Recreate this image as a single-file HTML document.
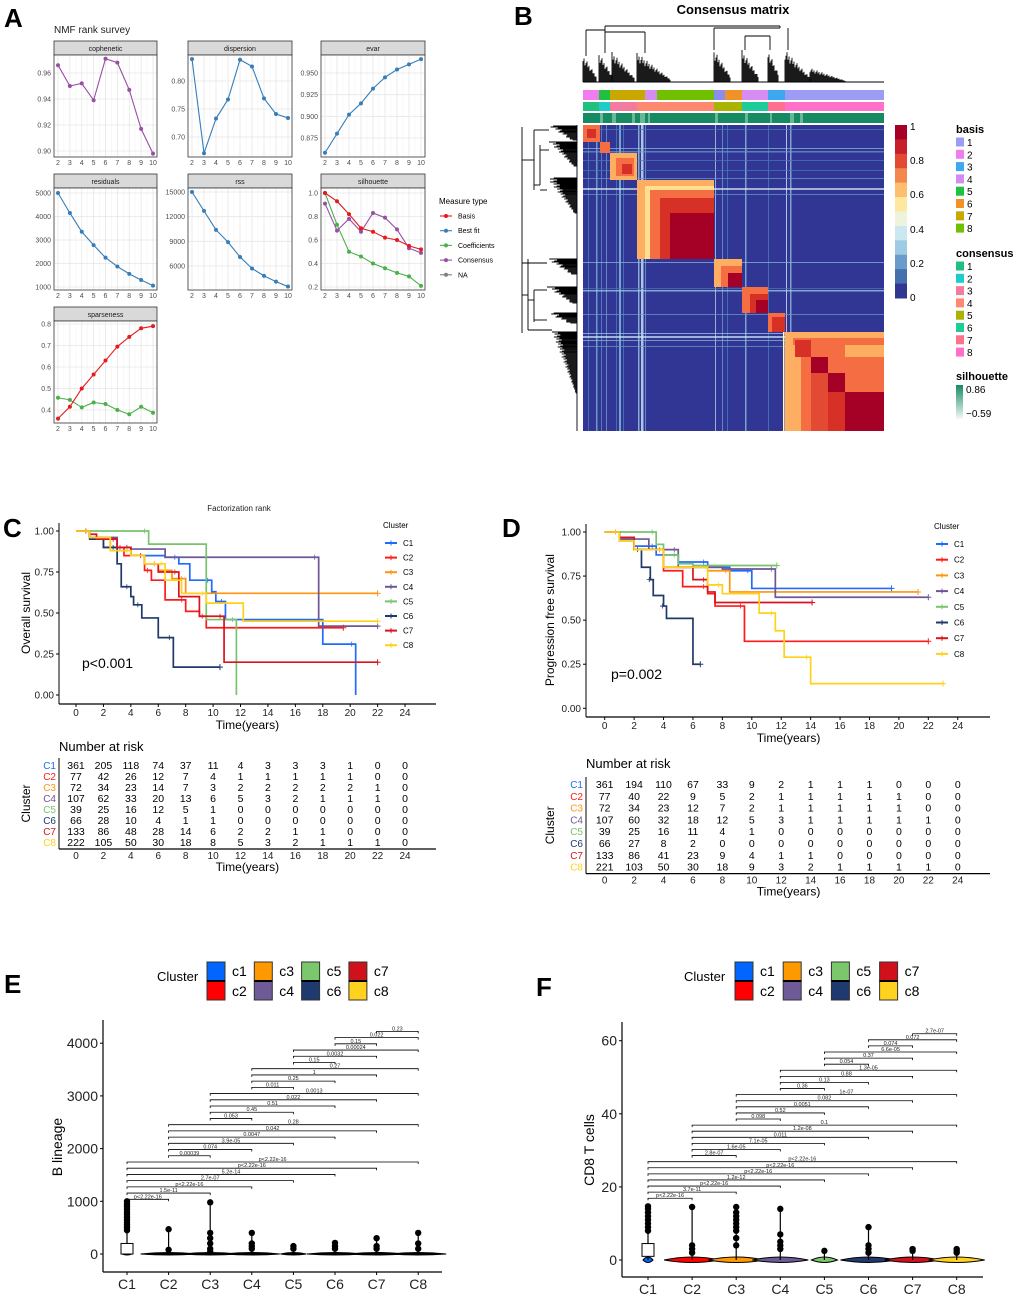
<!DOCTYPE html>
<html><head><meta charset="utf-8"><style>
html,body{margin:0;padding:0;background:#fff;}
svg{display:block;font-family:"Liberation Sans",sans-serif;}
</style></head><body>
<svg id="fig" width="1020" height="1298" viewBox="0 0 1020 1298" xmlns="http://www.w3.org/2000/svg"></svg>
<script>
// ---------- Panel A data ----------
const ranks=[2,3,4,5,6,7,8,9,10];
const copheneticVals=[0.966,0.950,0.952,0.939,0.971,0.968,0.947,0.917,0.898];
const dispersionVals=[0.839,0.671,0.733,0.767,0.838,0.826,0.769,0.741,0.734];
const evarVals=[0.858,0.880,0.902,0.915,0.932,0.945,0.954,0.960,0.966];
const residualsVals=[5000,4150,3350,2780,2250,1870,1560,1300,1060];
const rssVals=[15000,12700,10400,8900,7100,5700,4800,4100,3500];
const silBasis=[1.0,0.93,0.82,0.70,0.67,0.62,0.60,0.55,0.52];
const silCoef=[1.0,0.73,0.50,0.46,0.40,0.36,0.32,0.29,0.21];
const silConsensus=[0.91,0.68,0.78,0.67,0.83,0.79,0.69,0.53,0.49];
const sparseBasis=[0.36,0.415,0.50,0.565,0.63,0.695,0.74,0.78,0.79];
const sparseCoef=[0.457,0.447,0.412,0.435,0.428,0.40,0.38,0.415,0.387];
const measureTypes=['Basis','Best fit','Coefficients','Consensus','NA'];
// ---------- KM data ----------
const clusters=['C1','C2','C3','C4','C5','C6','C7','C8'];
const osTimes={C1:[1,3,4,6.5,7.5,8.3,9.9,10.2,10.9,18,20.4],C2:[1,2,3.5,5,5.5,6.5,8,9,9.5],C3:[1,2.5,4,5,6,7,8],C4:[1,3,4,6.5,17.7],C5:[5.3,9.5,11.7],C6:[1,2,3,3.3,4,4.2,4.8,6,7.1],C7:[1,1.5,3,4,5,6,7.5,9,10.8],C8:[1,2.5,4,5,6.5,7.7,9.5,12.2]};
const osSurv={C1:[0.96,0.9,0.85,0.84,0.8,0.7,0.63,0.57,0.46,0.31,0],C2:[0.96,0.9,0.85,0.76,0.7,0.58,0.51,0.48,0.41],C3:[0.96,0.9,0.85,0.8,0.76,0.71,0.62],C4:[0.96,0.9,0.89,0.84,0.42],C5:[0.92,0.46,0],C6:[0.95,0.9,0.8,0.66,0.6,0.55,0.47,0.35,0.17],C7:[0.98,0.95,0.9,0.85,0.8,0.75,0.6,0.48,0.2],C8:[0.96,0.88,0.85,0.8,0.7,0.62,0.56,0.45]};
const osEnd={C1:20.4,C2:19.5,C3:22,C4:22,C5:11.7,C6:10.5,C7:22,C8:22};
const pfsTimes={C1:[1,2,3.5,5,7,8.5,10],C2:[1,2,4,5.3,7,7.5,9.5],C3:[1,2,4,7,8.5],C4:[1,3,5,8,11.6],C5:[3.5,4,5,6],C6:[1,2,2.5,3.1,3.3,4,4.2,6],C7:[1,2,4,6,7,7.5],C8:[1,2,4,7,8,10.5,11.6,12.2,14]};
const pfsSurv={C1:[0.96,0.92,0.87,0.83,0.8,0.78,0.68],C2:[0.96,0.9,0.78,0.69,0.65,0.58,0.38],C3:[0.96,0.9,0.8,0.78,0.66],C4:[0.96,0.9,0.8,0.79,0.63],C5:[0.93,0.87,0.82,0.81],C6:[0.95,0.9,0.8,0.73,0.64,0.58,0.51,0.25],C7:[0.97,0.9,0.8,0.73,0.66,0.6],C8:[0.95,0.9,0.8,0.7,0.65,0.54,0.44,0.29,0.14]};
const pfsEnd={C1:19.5,C2:22,C3:21.3,C4:22,C5:11.7,C6:6.5,C7:14.1,C8:23};
const riskTimes=[0,2,4,6,8,10,12,14,16,18,20,22,24];
const osRisk=[[361,205,118,74,37,11,4,3,3,3,1,0,0],[77,42,26,12,7,4,1,1,1,1,1,0,0],[72,34,23,14,7,3,2,2,2,2,2,1,0],[107,62,33,20,13,6,5,3,2,1,1,1,0],[39,25,16,12,5,1,0,0,0,0,0,0,0],[66,28,10,4,1,1,0,0,0,0,0,0,0],[133,86,48,28,14,6,2,2,1,1,0,0,0],[222,105,50,30,18,8,5,3,2,1,1,1,0]];
const pfsRisk=[[361,194,110,67,33,9,2,1,1,1,0,0,0],[77,40,22,9,5,2,1,1,1,1,1,0,0],[72,34,23,12,7,2,1,1,1,1,1,0,0],[107,60,32,18,12,5,3,1,1,1,1,1,0],[39,25,16,11,4,1,0,0,0,0,0,0,0],[66,27,8,2,0,0,0,0,0,0,0,0,0],[133,86,41,23,9,4,1,1,0,0,0,0,0],[221,103,50,30,18,9,3,2,1,1,1,1,0]];
// ---------- Violin data ----------
const pairsI=[1,1,1,1,1,1,1,2,2,2,2,2,2,3,3,3,3,3,4,4,4,4,5,5,5,6,6,7];
const pairsJ=[2,3,4,5,6,7,8,3,4,5,6,7,8,4,5,6,7,8,5,6,7,8,6,7,8,7,8,8];
const pLabelsE=['p<2.22e-16','1.5e-11','p<2.22e-16','2.7e-07','5.2e-14','p<2.22e-16','p<2.22e-16','0.00039','0.074','3.9e-05','0.0047','0.042','0.28','0.053','0.45','0.51','0.022','0.0013','0.011','0.25','1','0.27','0.15','0.0032','0.00024','0.15','0.022','0.23'];
const pLabelsF=['p<2.22e-16','3.7e-11','p<2.22e-16','1.2e-12','p<2.22e-16','p<2.22e-16','p<2.22e-16','2.8e-07','1.6e-05','7.1e-05','0.011','1.2e-08','0.1','0.098','0.52','0.0051','0.082','1e-07','0.36','0.13','0.88','1.3e-05','0.054','0.37','6.6e-05','0.074','0.072','2.7e-07'];
const outliersE=[[450,500,550,600,650,700,750,800,850,900,950,1000],[80,470],[50,100,200,300,400,980],[100,150,200,400],[100,150],[100,150,210],[100,150,300],[100,200,400]];
const outliersF=[[8,9,10,11,12,13,14,14.7],[2,3,4,14.5],[4,6,8,9,10,11,12,13,14.5],[3,4,5,7,14],[2.5],[2,3,4,9],[2.5,3],[2,2.5,3]];
const yTicksE=[0,1000,2000,3000,4000];
const yTicksF=[0,20,40,60];

const NS='http://www.w3.org/2000/svg';
const svg=document.getElementById('fig');
const kmCol={C1:'#1F6BFF',C2:'#FF1A1A',C3:'#FF9410',C4:'#6C5794',C5:'#78C46C',C6:'#1F3A6A',C7:'#D9141E',C8:'#FFD21A'};
function mk(tag,attrs,parent,name){
  const e=document.createElementNS(NS,tag);
  for(const k in attrs) e.setAttribute(k,attrs[k]);
  
  
  (parent||svg).appendChild(e);return e;}
function tx(s,x,y,size,parent,name,extra){
  const a=Object.assign({x:x,y:y,'font-size':size,fill:'#000'},extra||{});
  const e=mk('text',a,parent,name);e.textContent=s;return e;}
function grp(name){return mk('g',{},svg,name);}

[['A',4,27],['B',514,25],['C',3,537],['D',502,537],['E',4,993],['F',536,996]].forEach(function(l){
  tx(l[0],l[1],l[2],26,svg,'panel-label-'+l[0].toLowerCase(),{'font-weight':'bold'});});

// ---------- Panel A ----------
(function(){
  const g=grp('nmf-rank-survey');
  tx('NMF rank survey',54,33,10,g,'panel-a-title',{fill:'#222'});
  const cols=[[54,157],[188,292],[321,425]];
  const rows=[[55,157],[188,290],[321,423]];
  const facets=[
    {n:'cophenetic',c:0,r:0,ref:[0.96,73,0.90,151],ticks:[0.90,0.92,0.94,0.96],lab:['0.90','0.92','0.94','0.96'],series:[[copheneticVals,'#984EA3']]},
    {n:'dispersion',c:1,r:0,ref:[0.80,81,0.70,137],ticks:[0.70,0.75,0.80],lab:['0.70','0.75','0.80'],series:[[dispersionVals,'#377EB8']]},
    {n:'evar',c:2,r:0,ref:[0.950,73,0.875,138],ticks:[0.875,0.900,0.925,0.950],lab:['0.875','0.900','0.925','0.950'],series:[[evarVals,'#377EB8']]},
    {n:'residuals',c:0,r:1,ref:[5000,193,1000,287],ticks:[1000,2000,3000,4000,5000],lab:['1000','2000','3000','4000','5000'],series:[[residualsVals,'#377EB8']]},
    {n:'rss',c:1,r:1,ref:[15000,192,6000,266],ticks:[6000,9000,12000,15000],lab:['6000','9000','12000','15000'],series:[[rssVals,'#377EB8']]},
    {n:'silhouette',c:2,r:1,ref:[1.0,193,0.2,287],ticks:[0.2,0.4,0.6,0.8,1.0],lab:['0.2','0.4','0.6','0.8','1.0'],series:[[silCoef,'#4DAF4A'],[silConsensus,'#984EA3'],[silBasis,'#E41A1C']]},
    {n:'sparseness',c:0,r:2,ref:[0.8,324,0.4,410],ticks:[0.4,0.5,0.6,0.7,0.8],lab:['0.4','0.5','0.6','0.7','0.8'],series:[[sparseCoef,'#4DAF4A'],[sparseBasis,'#E41A1C']]}
  ];
  facets.forEach(function(f){
    const x0=cols[f.c][0],x1=cols[f.c][1],y0=rows[f.r][0],y1=rows[f.r][1];
    const fg=mk('g',{},g,'facet-'+f.n);
    const xs=function(r){return x0+4+(r-2)*(x1-x0-8)/8;};
    const ys=function(v){return f.ref[1]+(v-f.ref[0])*(f.ref[3]-f.ref[1])/(f.ref[2]-f.ref[0]);};
    mk('rect',{x:x0,y:y0-14,width:x1-x0,height:14,fill:'#D9D9D9',stroke:'#333','stroke-width':0.8},fg,'facet-strip');
    tx(f.n,(x0+x1)/2,y0-4,7,fg,'facet-strip-label',{'text-anchor':'middle',fill:'#1A1A1A'});
    mk('rect',{x:x0,y:y0,width:x1-x0,height:y1-y0,fill:'#fff'},fg,'facet-panel');
    for(let r=2.5;r<10;r+=1) mk('line',{x1:xs(r),x2:xs(r),y1:y0,y2:y1,stroke:'#F4F4F4','stroke-width':0.6},fg,'minor-grid');
    ranks.forEach(function(r){mk('line',{x1:xs(r),x2:xs(r),y1:y0,y2:y1,stroke:'#E6E6E6','stroke-width':0.8},fg,'grid-x');
      tx(String(r),xs(r),y1+8,7,fg,'x-tick-label',{'text-anchor':'middle',fill:'#4D4D4D'});});
    f.ticks.forEach(function(t,i){const y=ys(t);
      mk('line',{x1:x0,x2:x1,y1:y,y2:y,stroke:'#E6E6E6','stroke-width':0.8},fg,'grid-y');
      tx(f.lab[i],x0-3,y+2.5,7,fg,'y-tick-label',{'text-anchor':'end',fill:'#4D4D4D'});});
    mk('rect',{x:x0,y:y0,width:x1-x0,height:y1-y0,fill:'none',stroke:'#333','stroke-width':0.8},fg,'facet-border');
    f.series.forEach(function(s){
      const pts=s[0].map(function(v,i){return xs(ranks[i])+','+ys(v);}).join(' ');
      mk('polyline',{points:pts,fill:'none',stroke:s[1],'stroke-width':1.1},fg,'measure-line');
      s[0].forEach(function(v,i){mk('circle',{cx:xs(ranks[i]),cy:ys(v),r:2,fill:s[1]},fg,'measure-point');});
    });
  });
  const lg=mk('g',{},g,'measure-type-legend');
  tx('Measure type',439,204,8,lg,'legend-title');
  const lc=['#E41A1C','#377EB8','#4DAF4A','#984EA3','#7F7F7F'];
  measureTypes.forEach(function(m,i){const y=216+i*14.7;
    mk('line',{x1:440,x2:452,y1:y,y2:y,stroke:lc[i],'stroke-width':1.1},lg,'legend-line');
    mk('circle',{cx:446,cy:y,r:2,fill:lc[i]},lg,'legend-dot');
    tx(m,458,y+2.5,7,lg,'legend-entry');});
})();

// ---------- Panel B ----------
(function(){
  const g=grp('consensus-matrix');
  tx('Consensus matrix',733,14,13,g,'heatmap-title',{'text-anchor':'middle','font-weight':'bold'});
  const hx0=583,hy0=125,W=301,H=306;
  mk('rect',{x:hx0,y:hy0,width:W,height:H,fill:'#313695'},g,'heatmap-background');
  const vst=[[588,1,'#4A7BB7'],[596,1.5,'#7FB0D4'],[601,1,'#5A8CC2'],[606,1,'#6C9CCB'],[616,1,'#4A7BB7'],[619,2,'#8FBEDC'],[623,1,'#4A7BB7'],[638,1.5,'#9FCBE2'],[641,2.5,'#CFE8F2'],[645,1,'#6C9CCB'],[715,1,'#A9D4E6'],[722,1,'#6C9CCB'],[727,1,'#4A7BB7'],[745,1.5,'#8FBEDC'],[768,1,'#4A7BB7'],[786,1,'#CFE8F2'],[790,1.5,'#8FBEDC']];
  vst.forEach(function(s){mk('rect',{x:s[0],y:hy0,width:s[1],height:H,fill:s[2],opacity:0.8},g,'heatmap-stripe');});
  const hst=[[129,1,'#4A7BB7'],[148,1,'#8FBEDC'],[151,1.5,'#6C9CCB'],[160,1,'#4A7BB7'],[170,1,'#4A7BB7'],[178,1,'#6C9CCB'],[188,2,'#CFE8F2'],[194,1,'#6C9CCB'],[262,1,'#8FBEDC'],[288,1,'#4A7BB7'],[290,1.5,'#A9D4E6'],[314,1,'#6C9CCB'],[333,1,'#A9D4E6'],[336,2,'#CFE8F2'],[340,1,'#8FBEDC'],[346,1,'#6C9CCB']];
  hst.forEach(function(s){mk('rect',{x:hx0,y:s[0],width:W,height:s[1],fill:s[2],opacity:0.7},g,'heatmap-stripe');});
  const blocks=[[583,125,17,17,'#F46D43'],[587,129,9,9,'#D73027'],[600,142,10,11,'#F46D43'],[610,153,27,27,'#FDAE61'],[616,158,18,18,'#F46D43'],[622,164,10,10,'#D73027'],
    [637,180,77,79,'#FDAE61'],[645,186,69,73,'#FEE090'],[650,190,64,69,'#F46D43'],[660,198,54,61,'#D73027'],[670,213,44,46,'#A50026'],
    [714,259,28,28,'#FDAE61'],[721,266,21,21,'#F46D43'],[728,273,14,14,'#A50026'],
    [742,287,26,26,'#F46D43'],[750,294,18,19,'#D73027'],[756,300,12,13,'#A50026'],
    [768,313,17,19,'#F46D43'],[772,317,13,15,'#D73027'],
    [785,332,99,99,'#F46D43'],[785,332,8,99,'#FDAE61'],[785,332,99,6,'#FDAE61'],[793,345,8,86,'#FDAE61'],[811,357,17,16,'#A50026'],[828,373,17,19,'#A50026'],[811,373,17,58,'#E34A33'],[828,392,17,39,'#D73027'],[845,392,39,39,'#A50026'],[845,357,39,35,'#F46D43'],[845,345,39,12,'#FDAE61'],[795,340,16,17,'#D73027']];
  blocks.forEach(function(b){mk('rect',{x:b[0],y:b[1],width:b[2],height:b[3],fill:b[4]},g,'heatmap-block');});
  mk('rect',{x:783,y:332,width:1.5,height:99,fill:'#FFFFBF'},g,'heatmap-stripe');
  const basisSeg=[[583,599,'#F07CF0'],[599,610,'#20C040'],[610,645,'#C8A800'],[645,657,'#D38CF0'],[657,714,'#70C000'],[714,725,'#8C8CF0'],[725,742,'#F0922A'],[742,768,'#D68CF0'],[768,785,'#3DA8F0'],[785,884,'#9C9CF5']];
  basisSeg.forEach(function(s){mk('rect',{x:s[0],y:90,width:s[1]-s[0],height:10,fill:s[2]},g,'basis-annotation');});
  const consSeg=[[583,599,'#22C080'],[599,610,'#1ECCC8'],[610,637,'#F27CA0'],[637,714,'#FF8870'],[714,742,'#A8B400'],[742,768,'#1ECC99'],[768,785,'#FF7090'],[785,884,'#FF70C8']];
  consSeg.forEach(function(s){mk('rect',{x:s[0],y:102,width:s[1]-s[0],height:9,fill:s[2]},g,'consensus-annotation');});
  mk('rect',{x:583,y:113,width:301,height:10,fill:'#168A62'},g,'silhouette-annotation');
  [[600,3],[612,4],[632,3],[640,5],[648,2],[715,3],[745,3],[770,2],[790,4],[800,3]].forEach(function(s){
    mk('rect',{x:s[0],y:113,width:s[1],height:10,fill:'#7CC3A5',opacity:0.8},g,'silhouette-streak');});
  const dg=mk('g',{stroke:'#000','stroke-width':0.9,fill:'none'},g,'column-dendrogram');
  mk('line',{x1:583,x2:884,y1:82,y2:82},dg,'dendro-base');
  const tg=[[583,596,55],[599,612,53],[612,634,52],[637,670,53],[714,730,50],[742,758,50],[768,778,50],[785,810,50],[810,845,68]];
  tg.forEach(function(d){for(let x=d[0];x<=d[1];x+=1){const h=(82-d[2])*(1-(x-d[0])/(d[1]-d[0]+4))*(0.7+0.3*((x*7)%5)/4);
    mk('line',{x1:x,x2:x,y1:82,y2:82-h},dg,'dendro-leaf');}});
  [[586,605,30],[605,645,32],[605,780,26],[714,780,28],[745,770,36]].forEach(function(h){mk('line',{x1:h[0],x2:h[1],y1:h[2],y2:h[2]},dg,'dendro-join');});
  [[586,30,56],[605,26,53],[645,32,53],[714,28,50],[745,36,50],[770,36,50],[780,26,28],[788,28,50]].forEach(function(v){mk('line',{x1:v[0],x2:v[0],y1:v[1],y2:v[2]},dg,'dendro-join');});
  const lg=mk('g',{stroke:'#000','stroke-width':0.9,fill:'none'},g,'row-dendrogram');
  mk('line',{x1:577,x2:577,y1:125,y2:431},lg,'dendro-base');
  const lgroups=[[126,140,549],[142,166,549],[178,213,547],[259,274,547],[287,303,547],[313,323,547],[332,393,552]];
  lgroups.forEach(function(d){for(let y=d[0];y<=d[1];y+=1){const w=(577-d[2])*(1-(y-d[0])/(d[1]-d[0]+4))*(0.7+0.3*((y*7)%5)/4);
    mk('line',{y1:y,y2:y,x1:577,x2:577-w},lg,'dendro-leaf');}});
  [[522,127,333],[528,259,330],[534,130,190],[534,290,322],[540,145,185]].forEach(function(v){mk('line',{x1:v[0],x2:v[0],y1:v[1],y2:v[2]},lg,'dendro-join');});
  [[522,534,160],[522,528,295],[534,549,130],[534,540,185],[540,549,150],[540,547,190],[522,547,263],[528,534,300],[534,547,290],[534,547,320],[528,552,330]].forEach(function(h){mk('line',{x1:h[0],x2:h[1],y1:h[2],y2:h[2]},lg,'dendro-join');});
  const cb=['#A50026','#C8202A','#E34A33','#F4874C','#FDBF6F','#FEE8A0','#EEF3DC','#CBE7F0','#9DCBE3','#6A9CCB','#4570B0','#2F3792'];
  cb.forEach(function(c,i){mk('rect',{x:895,y:125+i*173/12,width:12,height:173/12+0.5,fill:c},g,'colorbar-band');});
  [['1',130],['0.8',164],['0.6',198],['0.4',233],['0.2',267],['0',301]].forEach(function(t){tx(t[0],910,t[1],10,g,'colorbar-label');});
  const basisCols=['#9C9CF5','#F07CF0','#3DA8F0','#D38CF0','#20C040','#F0922A','#C8A800','#70C000'];
  const consCols=['#22C080','#1ECCC8','#F27CA0','#FF8870','#A8B400','#1ECC99','#FF7090','#FF70C8'];
  tx('basis',956,133,11,g,'basis-legend-title',{'font-weight':'bold'});
  basisCols.forEach(function(c,i){const y=142+i*12.3;mk('rect',{x:956,y:y-4.5,width:8,height:9,fill:c},g,'basis-legend-swatch');tx(String(i+1),967,y+4,10,g,'basis-legend-label');});
  tx('consensus',956,257,11,g,'consensus-legend-title',{'font-weight':'bold'});
  consCols.forEach(function(c,i){const y=266+i*12.3;mk('rect',{x:956,y:y-4.5,width:8,height:9,fill:c},g,'consensus-legend-swatch');tx(String(i+1),967,y+4,10,g,'consensus-legend-label');});
  tx('silhouette',956,380,11,g,'silhouette-legend-title',{'font-weight':'bold'});
  const gr=mk('linearGradient',{id:'silg',x1:0,y1:0,x2:0,y2:1},g,'silhouette-gradient');
  mk('stop',{offset:0,'stop-color':'#168A62'},gr,'gradient-stop');mk('stop',{offset:1,'stop-color':'#F4FAF7'},gr,'gradient-stop');
  mk('rect',{x:956,y:385,width:7,height:34,fill:'url(#silg)'},g,'silhouette-legend-bar');
  tx('0.86',966,393,10,g,'silhouette-max-label');tx('\u22120.59',966,417,10,g,'silhouette-min-label');
})();

// ---------- KM panels ----------
function drawKM(cfg,times,surv,ends,risk){
  const g=grp(cfg.name);
  const xs=function(t){return cfg.x0+t*cfg.ppy;};
  const ys=function(s){return cfg.y0-s*(cfg.y0-cfg.y1);};
  if(cfg.title) tx(cfg.title,239,511,8,g,'plot-title',{'text-anchor':'middle',fill:'#222'});
  mk('line',{x1:cfg.ax,x2:cfg.ax,y1:cfg.y1-8,y2:cfg.axB,stroke:'#000'},g,'y-axis-line');
  mk('line',{x1:cfg.ax,x2:cfg.axR,y1:cfg.axB,y2:cfg.axB,stroke:'#000','stroke-width':1.2},g,'x-axis-line');
  [0,0.25,0.5,0.75,1].forEach(function(s){const y=ys(s);mk('line',{x1:cfg.ax-3,x2:cfg.ax,y1:y,y2:y,stroke:'#000'},g,'y-tick');
    tx(s.toFixed(2),cfg.ax-5,y+3.5,10,g,'y-tick-label',{'text-anchor':'end',fill:'#222'});});
  riskTimes.forEach(function(t){const x=xs(t);mk('line',{x1:x,x2:x,y1:cfg.axB,y2:cfg.axB+3,stroke:'#000'},g,'x-tick');
    tx(String(t),x,cfg.axB+12,10,g,'x-tick-label',{'text-anchor':'middle',fill:'#222'});});
  tx('Time(years)',xs(12.5),cfg.axB+25,12,g,'x-axis-title',{'text-anchor':'middle'});
  tx(cfg.ylab,0,0,12,g,'y-axis-title',{'text-anchor':'middle',transform:'translate('+cfg.ylx+','+((cfg.y0+cfg.y1)/2)+') rotate(-90)'});
  tx(cfg.p,cfg.px,cfg.py,14,g,'p-value');
  clusters.forEach(function(c){
    let d='M'+xs(0)+','+ys(1);
    times[c].forEach(function(t,i){d+=' H'+xs(t)+' V'+ys(surv[c][i]);});
    d+=' H'+xs(ends[c]);
    mk('path',{d:d,fill:'none',stroke:kmCol[c],'stroke-width':1.7},g,'km-curve-'+c.toLowerCase());
    const last=surv[c][surv[c].length-1];
    if(last>0){const ex=xs(ends[c]),ey=ys(last);
      mk('path',{d:'M'+(ex-3)+','+ey+' H'+(ex+3)+' M'+ex+','+(ey-3)+' V'+(ey+3),stroke:kmCol[c],'stroke-width':1},g,'censor-mark');}
    times[c].forEach(function(t,i){if(i%2===0){const cx=xs(t)-4,cy=ys(i?surv[c][i-1]:1);
      mk('path',{d:'M'+(cx-2.5)+','+cy+' H'+(cx+2.5)+' M'+cx+','+(cy-2.5)+' V'+(cy+2.5),stroke:kmCol[c],'stroke-width':0.8},g,'censor-mark');}});
  });
  const lg=mk('g',{},g,'cluster-legend');
  tx('Cluster',cfg.lx,cfg.ly,8,lg,'legend-title');
  clusters.forEach(function(c,i){const y=cfg.ly+15+i*cfg.lstep;
    mk('line',{x1:cfg.lx+2,x2:cfg.lx+14,y1:y,y2:y,stroke:kmCol[c],'stroke-width':2},lg,'legend-line');
    mk('line',{x1:cfg.lx+8,x2:cfg.lx+8,y1:y-2.5,y2:y+2.5,stroke:kmCol[c],'stroke-width':1},lg,'legend-censor');
    tx(c,cfg.lx+20,y+3,8,lg,'legend-entry');});
  const rg=mk('g',{},g,'risk-table');
  tx('Number at risk',cfg.ax,cfg.rt,13,rg,'risk-table-title');
  const rb=cfg.rr0+7*cfg.rstep+7;
  mk('line',{x1:cfg.ax,x2:cfg.ax,y1:cfg.rr0-7,y2:rb,stroke:'#000'},rg,'risk-y-axis');
  mk('line',{x1:cfg.ax,x2:cfg.axR,y1:rb,y2:rb,stroke:'#000','stroke-width':1.2},rg,'risk-x-axis');
  risk.forEach(function(row,i){const y=cfg.rr0+i*cfg.rstep;
    tx(clusters[i],cfg.ax-3,y+4,10,rg,'risk-row-label',{'text-anchor':'end',fill:kmCol[clusters[i]]});
    row.forEach(function(v,j){tx(String(v),xs(riskTimes[j]),y+4,10.5,rg,'risk-count',{'text-anchor':'middle'});});});
  riskTimes.forEach(function(t){tx(String(t),xs(t),rb+10,10,rg,'risk-x-tick-label',{'text-anchor':'middle',fill:'#222'});});
  tx('Time(years)',xs(12.5),rb+22,12,rg,'risk-x-axis-title',{'text-anchor':'middle'});
  tx('Cluster',0,0,12,rg,'risk-y-axis-title',{'text-anchor':'middle',transform:'translate('+cfg.ylx+','+(cfg.rr0+3.5*cfg.rstep)+') rotate(-90)'});
}
drawKM({name:'overall-survival-km',title:'Factorization rank',x0:76,ppy:13.71,y0:695,y1:531,ax:59,axR:436,axB:704,ylab:'Overall survival',ylx:30,p:'p<0.001',px:82,py:668,lx:383,ly:528,lstep:14.6,rt:751,rr0:765,rstep:11},osTimes,osSurv,osEnd,osRisk);
drawKM({name:'progression-free-survival-km',x0:604.7,ppy:14.71,y0:708.3,y1:532,ax:586,axR:990,axB:717,ylab:'Progression free survival',ylx:554,p:'p=0.002',px:611,py:679,lx:934,ly:529,lstep:15.7,rt:768,rr0:784,rstep:11.8},pfsTimes,pfsSurv,pfsEnd,pfsRisk);

// ---------- Violin panels ----------
const vCol=['#0066FF','#FF0000','#FF9900','#6E5A96','#7BC86C','#1F3A6E','#D0101A','#FFD21F'];
function drawViolin(cfg,labels,outs,yTicks){
  const g=grp(cfg.name);
  const xs=function(i){return cfg.c1+(i-1)*cfg.step;};
  const ys=function(v){return cfg.y0-v*cfg.ppu;};
  const lg=mk('g',{},g,'cluster-legend');
  tx('Cluster',cfg.lgx,cfg.lgy+19,13,lg,'legend-title');
  for(let k=0;k<4;k++){const x=cfg.sx+k*cfg.sstep;
    mk('rect',{x:x,y:cfg.lgy,width:18,height:19,fill:vCol[2*k],stroke:'#333'},lg,'legend-swatch');
    mk('rect',{x:x,y:cfg.lgy+19,width:18,height:19,fill:vCol[2*k+1],stroke:'#333'},lg,'legend-swatch');
    mk('line',{x1:x,x2:x+18,y1:cfg.lgy+19,y2:cfg.lgy+19,stroke:'#000','stroke-width':2},lg,'legend-divider');
    tx('c'+(2*k+1),x+25,cfg.lgy+14,14,lg,'legend-entry');
    tx('c'+(2*k+2),x+25,cfg.lgy+34,14,lg,'legend-entry');}
  mk('line',{x1:cfg.ax,x2:cfg.ax,y1:cfg.axT,y2:cfg.axB,stroke:'#000','stroke-width':1.2},g,'y-axis-line');
  mk('line',{x1:cfg.ax,x2:cfg.axR,y1:cfg.axB,y2:cfg.axB,stroke:'#000','stroke-width':1.2},g,'x-axis-line');
  yTicks.forEach(function(t){const y=ys(t);mk('line',{x1:cfg.ax-3,x2:cfg.ax,y1:y,y2:y,stroke:'#000'},g,'y-tick');
    tx(String(t),cfg.ax-5,y+5,14,g,'y-tick-label',{'text-anchor':'end',fill:'#222'});});
  for(let i=1;i<=8;i++){const x=xs(i);mk('line',{x1:x,x2:x,y1:cfg.axB,y2:cfg.axB+3,stroke:'#000'},g,'x-tick');
    tx('C'+i,x,cfg.axB+17,14,g,'x-tick-label',{'text-anchor':'middle',fill:'#222'});}
  tx(cfg.ylab,0,0,14,g,'y-axis-title',{'text-anchor':'middle',transform:'translate('+cfg.ylx+','+cfg.ylc+') rotate(-90)'});
  outs.forEach(function(o,k){const i=k+1,x=xs(i),y0=ys(0);const mx=Math.max.apply(null,o);
    const w=(i===1)?5:(i===5?13:28);const hh=cfg.flat?3:6;
    mk('path',{d:'M'+(x-w)+','+y0+' Q'+x+','+(y0-hh)+' '+(x+w)+','+y0+' Q'+x+','+(y0+hh-1)+' '+(x-w)+','+y0+' Z',fill:cfg.flat?'#000':vCol[k],stroke:'#000','stroke-width':1},g,'violin-'+i);
    mk('line',{x1:x,x2:x,y1:y0,y2:ys(mx),stroke:'#000','stroke-width':1.2},g,'whisker');
    if(i===1){mk('rect',{x:x-6,y:ys(cfg.boxHi),width:12,height:ys(cfg.boxLo)-ys(cfg.boxHi),fill:'#fff',stroke:'#000'},g,'boxplot');}
    o.forEach(function(v){mk('circle',{cx:x,cy:ys(v),r:3.2,fill:'#000'},g,'outlier-point');});});
  labels.forEach(function(l,k){const y=ys(cfg.b0+k*cfg.bstep);const xa=xs(pairsI[k]),xb=xs(pairsJ[k]);
    mk('path',{d:'M'+xa+','+(y+2)+' V'+y+' H'+xb+' V'+(y+2),fill:'none',stroke:'#000','stroke-width':0.8},g,'comparison-bracket');
    tx(l,(xa+xb)/2,y-1,5.5,g,'p-value-label',{'text-anchor':'middle',fill:'#222'});});
}
drawViolin({name:'b-lineage-violin',flat:true,c1:127,step:41.6,y0:1254,ppu:0.0527,ax:103,axR:442,axT:1020,axB:1272,ylab:'B lineage',ylx:62,ylc:1147,lgx:157,lgy:962,sx:207,sstep:47.3,boxLo:0,boxHi:200,b0:1038,bstep:118},pLabelsE,outliersE,yTicksE);
drawViolin({name:'cd8-t-cell-violin',flat:false,c1:648,step:44.1,y0:1260,ppu:3.655,ax:622,axR:983,axT:1022,axB:1277,ylab:'CD8 T cells',ylx:594,ylc:1150,lgx:684,lgy:962,sx:735,sstep:48.2,boxLo:1,boxHi:4.5,b0:16.9,bstep:1.667},pLabelsF,outliersF,yTicksF);
</script>
</body></html>
